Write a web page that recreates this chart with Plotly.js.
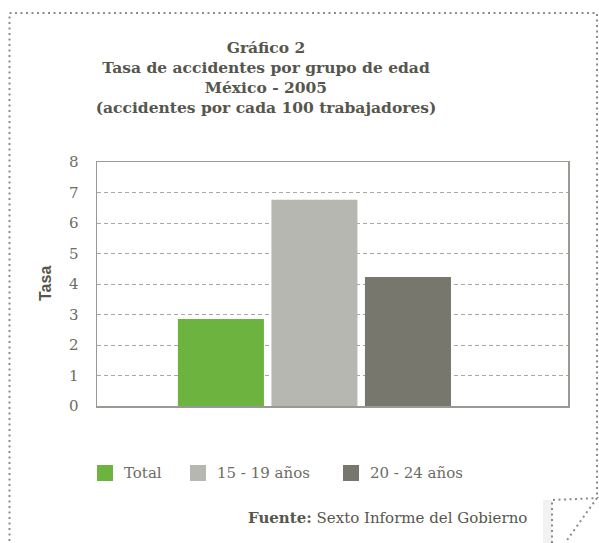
<!DOCTYPE html>
<html>
<head>
<meta charset="utf-8">
<script src="https://cdn.plot.ly/plotly-3.0.1.min.js"></script>
<style>
  html, body { margin: 0; padding: 0; background: #fff; }
  #chart { width: 599px; height: 543px; }
</style>
</head>
<body>
<div id="chart"></div>
<script>
// --- données ---
const groupLabel = ['México 2005'];
const seriesNames = ['Total', '15 - 19 años', '20 - 24 años'];
const seriesValues = [2.85, 6.76, 4.23];
const seriesColors = ['#6db33f', '#b7b7b1', '#77776d'];
const yTicks = [0, 1, 2, 3, 4, 5, 6, 7, 8];

const titleLines = [
  'Gráfico 2',
  'Tasa de accidentes por grupo de edad',
  'México - 2005',
  '(accidentes por cada 100 trabajadores)'
];
const sourceText = '<b>Fuente:</b> Sexto Informe del Gobierno';

// --- géométrie (pixels -> coordonnées paper) ---
const W = 599, H = 543;
const M = { l: 97, r: 31, t: 162, b: 137 };
const px = v => (v - M.l) / (W - M.l - M.r);
const py = v => (H - M.b - v) / (H - M.t - M.b);

const TXT = '#56564c';
const LIGHT = '#6c6c64';
const SERIF = '"DejaVu Serif", serif';
const FRAME = '#8c8c86';

const traces = seriesNames.map((name, i) => ({
  x: groupLabel,
  y: [seriesValues[i]],
  name: name,
  type: 'bar',
  marker: { color: seriesColors[i], line: { width: 0 } },
  hovertemplate: '<b>' + name + '</b><br>Tasa : %{y:.2f}<extra></extra>'
}));

// cadre pointillé de la page + coin replié
const dotted = { color: FRAME, width: 2, dash: '2px,3.5px' };
const shapes = [
  { type: 'path', xref: 'paper', yref: 'paper',
    path: `M${px(9.5)},${py(541)} L${px(9.5)},${py(13)} L${px(597)},${py(13)} L${px(597)},${py(498)}`,
    line: dotted },
  { type: 'rect', xref: 'paper', yref: 'paper',
    x0: px(543), x1: px(552), y0: py(543), y1: py(500),
    fillcolor: 'rgba(0,0,0,0.05)', line: { width: 0 } },
  { type: 'path', xref: 'paper', yref: 'paper',
    path: `M${px(552)},${py(543)} L${px(552)},${py(500)} L${px(597)},${py(498)} L${px(565)},${py(543)}`,
    line: dotted }
];

const annotations = [
  { text: 'Tasa', xref: 'paper', yref: 'paper', x: px(45), y: 0.5,
    xanchor: 'center', yanchor: 'middle',
    textangle: -90, showarrow: false,
    font: { family: '"Liberation Sans", Arial, sans-serif', size: 16, color: TXT, weight: 'bold' } },
  { text: sourceText, xref: 'paper', yref: 'paper', x: px(529), y: py(518),
    xanchor: 'right', yanchor: 'middle', showarrow: false,
    font: { family: SERIF, size: 15, color: TXT } }
];

// légende : carrés + libellés sous le graphique
const legendX = [97, 190, 343];
seriesNames.forEach((name, i) => {
  shapes.push({ type: 'rect', xref: 'paper', yref: 'paper',
    x0: px(legendX[i]), x1: px(legendX[i] + 16), y0: py(481), y1: py(465),
    fillcolor: seriesColors[i], line: { width: 0 } });
  annotations.push({ text: name, xref: 'paper', yref: 'paper',
    x: px(legendX[i] + 25), y: py(473), xanchor: 'left', yanchor: 'middle',
    showarrow: false, font: { family: SERIF, size: 15, color: LIGHT } });
});

const layout = {
  width: W, height: H,
  margin: M,
  paper_bgcolor: '#fff',
  plot_bgcolor: '#fff',
  barmode: 'group',
  bargap: 0.2,
  bargroupgap: 0.08,
  showlegend: false,
  title: {
    text: titleLines.join('<br>'),
    xref: 'paper', x: px(266), xanchor: 'center',
    yref: 'container', y: 1 - 53 / H, yanchor: 'top',
    font: { family: SERIF, size: 15.5, color: TXT, weight: 'bold' }
  },
  xaxis: {
    type: 'category',
    range: [-0.620, 0.723],
    showticklabels: false,
    showgrid: false, zeroline: false,
    showline: true, mirror: true, linecolor: '#9a9a94', linewidth: 1.5,
    fixedrange: true
  },
  yaxis: {
    range: [0, 8],
    tickvals: yTicks,
    ticks: '',
    ticklabelstandoff: 14,
    tickfont: { family: SERIF, size: 15, color: LIGHT },
    showgrid: true, gridcolor: '#a9a9a3', gridwidth: 1, griddash: '4px,3px',
    zeroline: false,
    showline: true, mirror: true, linecolor: '#9a9a94', linewidth: 1.5,
    fixedrange: true
  },
  shapes: shapes,
  annotations: annotations
};

Plotly.newPlot('chart', traces, layout, { displayModeBar: false, staticPlot: true });
</script>
</body>
</html>
